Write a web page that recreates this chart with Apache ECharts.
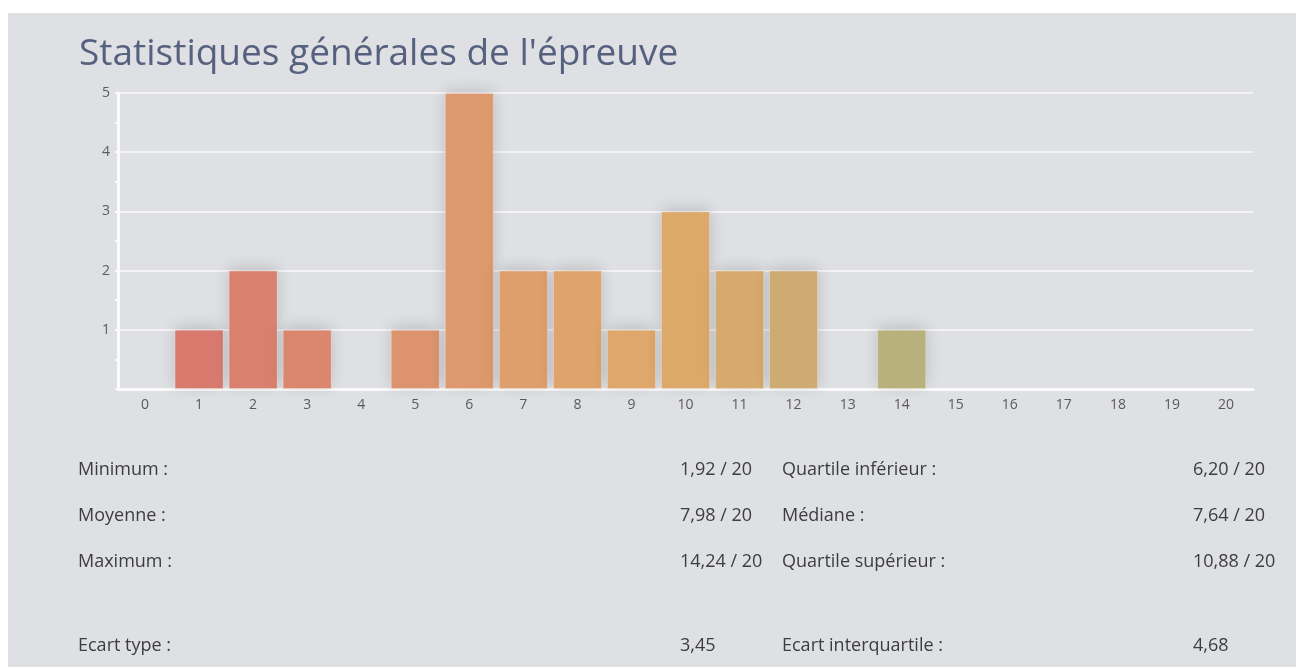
<!DOCTYPE html>
<html>
<head>
<meta charset="utf-8">
<title>Statistiques</title>
<script src="https://cdn.jsdelivr.net/npm/echarts@6/dist/echarts.min.js"></script>
<style>
  html, body { margin: 0; padding: 0; background: #fff; }
  #panel { position: absolute; left: 8px; top: 13px; width: 1288px; height: 654px; background: #dfe0e4; }
  #main { position: absolute; left: 0; top: 0; width: 1296px; height: 667px; }
</style>
</head>
<body>
<div id="panel"></div>
<div id="main"></div>
<script type="text/javascript">
    // notes sur 20, effectif par tranche
    var notes = ['0','1','2','3','4','5','6','7','8','9','10','11','12','13','14','15','16','17','18','19','20'];
    var effectifs = [0, 1, 2, 1, 0, 1, 5, 2, 2, 1, 3, 2, 2, 0, 1, 0, 0, 0, 0, 0, 0];

    var libellesGauche = ['Minimum :', 'Moyenne :', 'Maximum :', 'Ecart type :'];
    var valeursGauche = ['1,92 / 20', '7,98 / 20', '14,24 / 20', '3,45'];
    var libellesDroite = ['Quartile inférieur :', 'Médiane :', 'Quartile supérieur :', 'Ecart interquartile :'];
    var valeursDroite = ['6,20 / 20', '7,64 / 20', '10,88 / 20', '4,68'];

    var lignesY = [473, 519, 565, 649];
    var police = '"Open Sans", sans-serif';

    var graphics = [];
    function texte(x, y, t) {
        graphics.push({
            type: 'text', left: x, top: y - 12,
            style: { text: t, fill: '#3d3d3d', font: '18px ' + police }
        });
    }
    for (var i = 0; i < lignesY.length; i++) {
        texte(78, lignesY[i], libellesGauche[i]);
        texte(680, lignesY[i], valeursGauche[i]);
        texte(782, lignesY[i], libellesDroite[i]);
        texte(1193, lignesY[i], valeursDroite[i]);
    }

    var chart = echarts.init(document.getElementById('main'));
    chart.setOption({
        backgroundColor: 'transparent',
        animation: false,
        title: {
            text: "Statistiques générales de l'épreuve",
            left: 74, top: 31,
            textStyle: { fontFamily: police, fontSize: 37, fontWeight: 'normal', color: '#56617f' }
        },
        grid: {
            left: 118, right: 43, top: 93, bottom: 278,
            show: true, borderWidth: 0
        },
        visualMap: {
            show: false,
            type: 'continuous',
            dimension: 0,
            min: 1, max: 14,
            inRange: { color: ['#d97a6f', '#db876f', '#dc956e', '#dea26c', '#e0a96a', '#cfaa71', '#b9b17b'] }
        },
        xAxis: {
            type: 'category',
            data: notes,
            axisLine: { lineStyle: { color: '#fbfbfc', width: 3 } },
            axisTick: { show: false },
            axisLabel: { color: '#5a5a5a', fontFamily: police, fontSize: 14, margin: 9 },
            splitLine: { show: false }
        },
        yAxis: {
            type: 'value',
            min: 0, max: 5, interval: 1,
            axisLine: { show: true, lineStyle: { color: '#fbfbfc', width: 3 } },
            axisTick: { show: true, length: 3, lineStyle: { color: '#fbfbfc', width: 2 } },
            minorTick: { show: true, splitNumber: 2, length: 3, lineStyle: { color: '#fbfbfc', width: 2 } },
            axisLabel: {
                color: '#5a5a5a', fontFamily: police, fontSize: 14, margin: 8,
                formatter: function (v) { return v === 0 ? '' : v; }
            },
            splitLine: { lineStyle: { color: '#f4f4f6', width: 2 } }
        },
        series: [{
            type: 'bar',
            data: effectifs.map(function (v, i) { return [i, v]; }),
            barWidth: 49,
            itemStyle: {
                borderColor: 'rgba(255,255,255,0.25)',
                borderWidth: 1,
                shadowBlur: 14,
                shadowColor: 'rgba(0,0,0,0.16)',
                shadowOffsetY: -3
            }
        }],
        graphic: graphics
    });
</script>
</body>
</html>
